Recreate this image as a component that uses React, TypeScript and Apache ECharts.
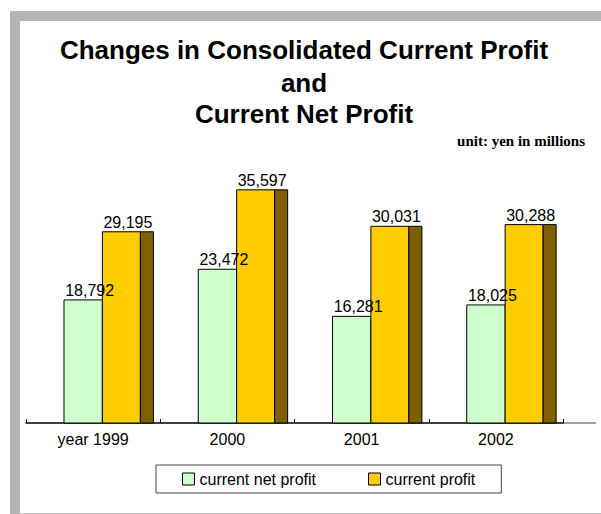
import React, { useEffect, useRef } from "react";
import * as echarts from "echarts";

const categories = ["year 1999", "2000", "2001", "2002"];
const netProfit = [18792, 23472, 16281, 18025];
const currentProfit = [29195, 35597, 30031, 30288];
const seriesNames = ["current net profit", "current profit"];
const titleLines = ["Changes in Consolidated Current Profit", "and", "Current Net Profit"];
const unitText = "unit: yen in millions";

const SANS = "'Liberation Sans', Arial, Helvetica, sans-serif";
const SERIF = "'Liberation Serif', 'Times New Roman', serif";
const fmt = (v: number) => v.toLocaleString("en-US");

export default function App() {
  const ref = useRef<HTMLDivElement>(null);
  useEffect(() => {
    const chart = echarts.init(ref.current!, null, { renderer: "svg" });

    const makeRender = (kind: "net" | "cur") => (params: any, api: any) => {
      const cat = api.value(0);
      const v = api.value(1);
      const base = api.coord([cat, 0]);
      const top = api.coord([cat, v]);
      const bw = api.size([1, 0])[0];
      const left = base[0] - bw / 2;
      const depth = 0.097 * bw;
      const children: any[] = [];
      let cx: number;
      if (kind === "net") {
        const x0 = left + 0.283 * bw;
        const w = 0.286 * bw;
        children.push({
          type: "rect",
          shape: { x: x0, y: top[1], width: w, height: base[1] - top[1] },
          style: { fill: "#CCFFCC", stroke: "#000", lineWidth: 1 },
        });
        cx = x0 + (w + depth) / 2;
      } else {
        const x0 = left + 0.569 * bw;
        const w = 0.283 * bw;
        children.push({
          type: "rect",
          shape: { x: x0, y: top[1], width: w, height: base[1] - top[1] },
          style: { fill: "#FFCC00", stroke: "#000", lineWidth: 1 },
        });
        children.push({
          type: "rect",
          shape: { x: x0 + w, y: top[1], width: depth, height: base[1] - top[1] },
          style: { fill: "#7F6000", stroke: "#000", lineWidth: 1 },
        });
        cx = x0 + (w + depth) / 2;
      }
      children.push({
        type: "text",
        z2: 10,
        style: {
          text: fmt(v),
          x: cx,
          y: top[1] - 9.5,
          textAlign: "center",
          textVerticalAlign: "middle",
          font: `16px ${SANS}`,
          fill: "#000",
        },
      });
      return { type: "group", children };
    };

    const option: any = {
      animation: false,
      backgroundColor: "#fff",
      grid: { left: 26, right: 38, top: 161, bottom: 91 },
      xAxis: {
        type: "category",
        data: categories,
        axisLine: { lineStyle: { color: "#000", width: 1.5 } },
        axisTick: { show: true, inside: true, length: 4, lineStyle: { color: "#000" } },
        axisLabel: { color: "#000", fontSize: 16, fontFamily: SANS, margin: 8 },
      },
      yAxis: { type: "value", min: 0, max: 40000, show: false, splitLine: { show: false } },
      legend: {
        left: 156,
        top: 465,
        padding: [6, 26, 6, 26],
        itemGap: 52,
        itemWidth: 12,
        itemHeight: 12,
        icon: "rect",
        borderColor: "#444",
        borderWidth: 1,
        textStyle: { color: "#000", fontSize: 16, fontFamily: SANS },
        data: [
          { name: seriesNames[0], itemStyle: { color: "#CCFFCC", borderColor: "#000", borderWidth: 1 } },
          { name: seriesNames[1], itemStyle: { color: "#FFCC00", borderColor: "#000", borderWidth: 1 } },
        ],
      },
      series: [
        {
          type: "custom",
          name: seriesNames[0],
          itemStyle: { color: "#CCFFCC" },
          renderItem: makeRender("net"),
          encode: { x: 0, y: 1 },
          data: netProfit.map((v, i) => [i, v]),
        },
        {
          type: "custom",
          name: seriesNames[1],
          itemStyle: { color: "#FFCC00" },
          renderItem: makeRender("cur"),
          encode: { x: 0, y: 1 },
          data: currentProfit.map((v, i) => [i, v]),
        },
      ],
      graphic: [
        { type: "rect", shape: { x: 10, y: 11, width: 10, height: 503 }, style: { fill: "#B4B4B4" } },
        { type: "rect", shape: { x: 10, y: 11, width: 591, height: 10 }, style: { fill: "#B4B4B4" } },
        { type: "line", shape: { x1: 20, y1: 513.5, x2: 601, y2: 513.5 }, style: { stroke: "#C8C8C8", lineWidth: 1 } },
        { type: "line", shape: { x1: 563, y1: 423, x2: 596, y2: 423 }, style: { stroke: "#808080", lineWidth: 1.5 } },
        ...titleLines.map((t, i) => ({
          type: "text",
          style: {
            text: t,
            x: 304,
            y: [50, 83, 114][i],
            textAlign: "center",
            textVerticalAlign: "middle",
            font: `bold 26px ${SANS}`,
            fill: "#000",
          },
        })),
        {
          type: "text",
          style: {
            text: unitText,
            x: 585,
            y: 141,
            textAlign: "right",
            textVerticalAlign: "middle",
            font: `bold 15px ${SERIF}`,
            fill: "#000",
          },
        },
      ],
    };
    chart.setOption(option);
    return () => chart.dispose();
  }, []);
  return (
    <div
      ref={ref}
      style={{ position: "fixed", left: 0, top: 0, width: 601, height: 514, background: "#fff" }}
    />
  );
}
